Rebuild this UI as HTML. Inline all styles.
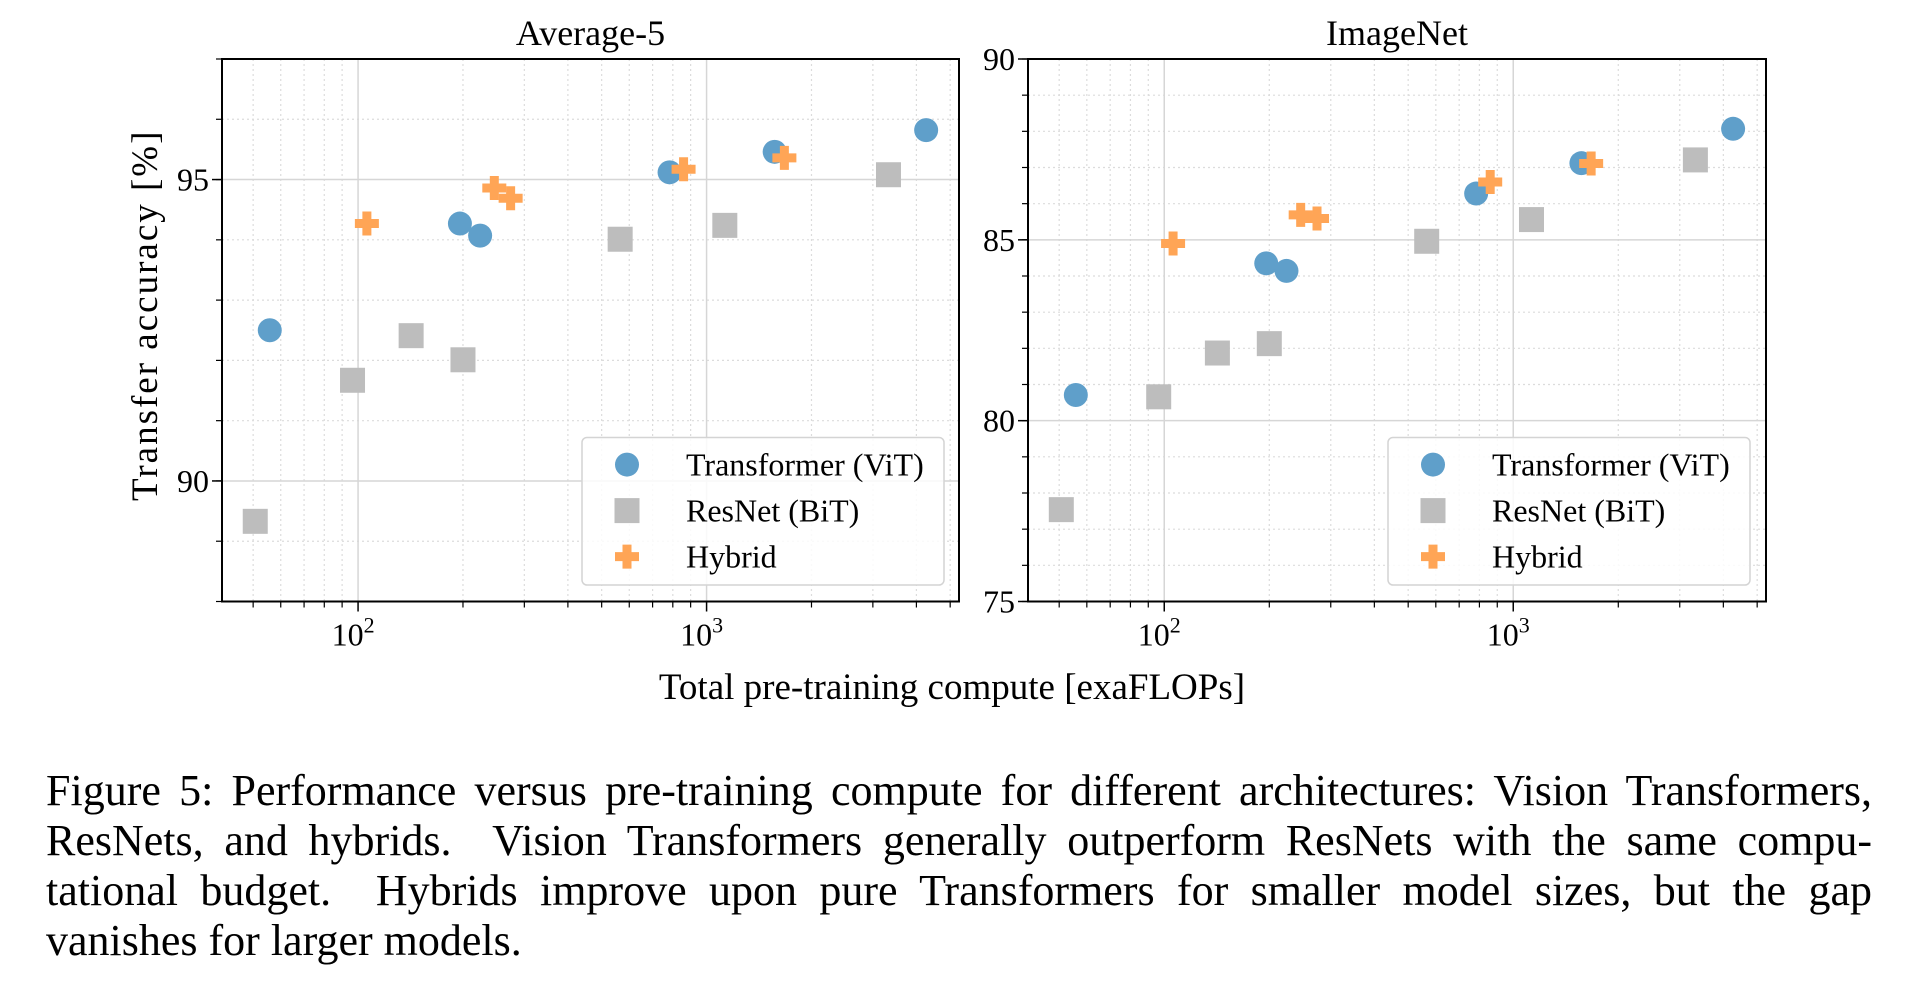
<!DOCTYPE html>
<html><head><meta charset="utf-8"><style>
body{margin:0;background:#fff;width:1908px;height:990px;overflow:hidden;font-family:"Liberation Serif",serif;}
#cap{position:absolute;left:46px;top:766px;width:1826px;font-size:44px;line-height:50px;color:#000;}
#cap div{text-align:justify;text-align-last:justify;white-space:nowrap;}
#cap div.last{text-align-last:left;}
</style></head><body>
<svg id="fig" width="1908" height="990" style="position:absolute;left:0;top:0" font-family="Liberation Serif, serif"></svg>
<div id="cap">
<div>Figure 5: Performance versus pre-training compute for different architectures: Vision Transformers,</div>
<div>ResNets, and hybrids.&nbsp; Vision Transformers generally outperform ResNets with the same compu-</div>
<div>tational budget.&nbsp; Hybrids improve upon pure Transformers for smaller model sizes, but the gap</div>
<div class="last">vanishes for larger models.</div>
</div>
<script>
const vitX=[55.8,196,224,783,1568,4266];
const resX=[50.7,96.4,142,200,565,1128,3326];
const hybX=[106,246,274,859,1672];
const avgVit=[92.5,94.27,94.07,95.12,95.46,95.82];
const avgRes=[89.33,91.67,92.41,92.01,94.01,94.24,95.08];
const avgHyb=[94.27,94.86,94.69,95.17,95.36];
const inVit=[80.71,84.35,84.14,86.28,87.12,88.07];
const inRes=[77.54,80.66,81.87,82.13,84.96,85.56,87.21];
const inHyb=[84.90,85.69,85.59,86.60,87.11];
const avgYTicks=[90,95];
const inYTicks=[75,80,85,90];
const xTickExps=[2,3];
const legendLabels=["Transformer (ViT)","ResNet (BiT)","Hybrid"];

const NS="http://www.w3.org/2000/svg";
const svg=document.getElementById('fig');
function mk(tag,attrs,parent){const e=document.createElementNS(NS,tag);for(const k in attrs)e.setAttribute(k,attrs[k]);(parent||svg).appendChild(e);return e;}
const C_VIT="#5f9fca",C_RES="#bdbdbd",C_HYB="#ffa556";
function marker(g,type,x,y){
  let e;
  if(type===0){e=mk('circle',{cx:x,cy:y,r:12,fill:C_VIT},g);}
  else if(type===1){e=mk('rect',{x:x-12.5,y:y-12.5,width:25,height:25,fill:C_RES},g);}
  else{const a=12,b=4.5;e=mk('path',{d:`M${x-b},${y-a}H${x+b}V${y-b}H${x+a}V${y+b}H${x+b}V${y+a}H${x-b}V${y+b}H${x-a}V${y-b}H${x-b}Z`,fill:C_HYB},g);}
  return e;
}
function panel(name,L,R,T,B,ymin,ymax,yticks,vit,res,hyb,title,legL,showYLabel){
  const g=mk('g',{});
  
  
  const xmin=Math.log10(40.7),xmax=Math.log10(5300);
  const sx=v=>L+(Math.log10(v)-xmin)/(xmax-xmin)*(R-L);
  const sy=v=>B-(v-ymin)/(ymax-ymin)*(B-T);
  for(let e=1;e<=3;e++)for(let m=2;m<=9;m++){const v=m*Math.pow(10,e);if(v<40.7||v>5300)continue;const x=sx(v);
    mk('line',{x1:x,x2:x,y1:T,y2:B,stroke:'#dcdcdc','stroke-width':1.2,'stroke-dasharray':'2,3'},g);
    mk('line',{x1:x,x2:x,y1:B,y2:B+6,stroke:'#000','stroke-width':1.2},g);}
  for(let v=Math.ceil(ymin);v<=ymax;v++){const y=sy(v);
    if(!yticks.includes(v))mk('line',{x1:L,x2:R,y1:y,y2:y,stroke:'#dcdcdc','stroke-width':1.2,'stroke-dasharray':'2,3'},g);
    mk('line',{x1:L-6,x2:L,y1:y,y2:y,stroke:'#000','stroke-width':1.2},g);}
  xTickExps.forEach(ex=>{const x=sx(Math.pow(10,ex));
    mk('line',{x1:x,x2:x,y1:T,y2:B,stroke:'#d6d6d6','stroke-width':1.5},g);
    mk('line',{x1:x,x2:x,y1:B,y2:B+10,stroke:'#000','stroke-width':1.5},g);
    const t=mk('text',{x:x-5,y:B+44,'font-size':32,'text-anchor':'middle'},g);
    
    
    t.textContent='10';const s=mk('tspan',{dy:-13,'font-size':22},t);s.textContent=ex;});
  yticks.forEach(v=>{const y=sy(v);
    mk('line',{x1:L,x2:R,y1:y,y2:y,stroke:'#d6d6d6','stroke-width':1.5},g);
    mk('line',{x1:L-10,x2:L,y1:y,y2:y,stroke:'#000','stroke-width':1.5},g);
    const t=mk('text',{x:L-13,y:y+11,'font-size':32,'text-anchor':'end'},g);
    
    
    t.textContent=v;});
  const series=[[vitX,vit,0,'vit-point'],[resX,res,1,'resnet-point'],[hybX,hyb,2,'hybrid-point']];
  series.forEach(([xs,ys,tp,nm])=>{xs.forEach((xv,i)=>{const e=marker(g,tp,sx(xv),sy(ys[i]));
    
    });});
  mk('rect',{x:L,y:T,width:R-L,height:B-T,fill:'none',stroke:'#000','stroke-width':2},g);
  const tt=mk('text',{x:(L+R)/2,y:T-14,'font-size':36,'text-anchor':'middle'},g);
  
  
  tt.textContent=title;
  const lg=mk('g',{},g);
  
  
  mk('rect',{x:legL,y:437.5,width:362,height:147.5,rx:5,fill:'rgba(255,255,255,0.85)',stroke:'#d4d4d4','stroke-width':1.5},lg);
  legendLabels.forEach((lab,i)=>{const y=464.6+i*46;
    const m=marker(lg,i,legL+45,y);
    
    
    const t=mk('text',{x:legL+104,y:y+11,'font-size':32},lg);
    
    
    t.textContent=lab;});
  if(showYLabel){const t=mk('text',{x:0,y:0,'font-size':37,'letter-spacing':'2','text-anchor':'middle',transform:`translate(157,${(T+B)/2-15}) rotate(-90)`},g);
    
    
    t.textContent='Transfer accuracy [%]';}
}
panel('average5',222,959,59,601.5,88,97,avgYTicks,avgVit,avgRes,avgHyb,'Average-5',582,true);
panel('imagenet',1028,1766,59,601.5,75,90,inYTicks,inVit,inRes,inHyb,'ImageNet',1388,false);
const xl=mk('text',{x:952,y:699,'font-size':37,'text-anchor':'middle'});


xl.textContent='Total pre-training compute [exaFLOPs]';
</script>
</body></html>
